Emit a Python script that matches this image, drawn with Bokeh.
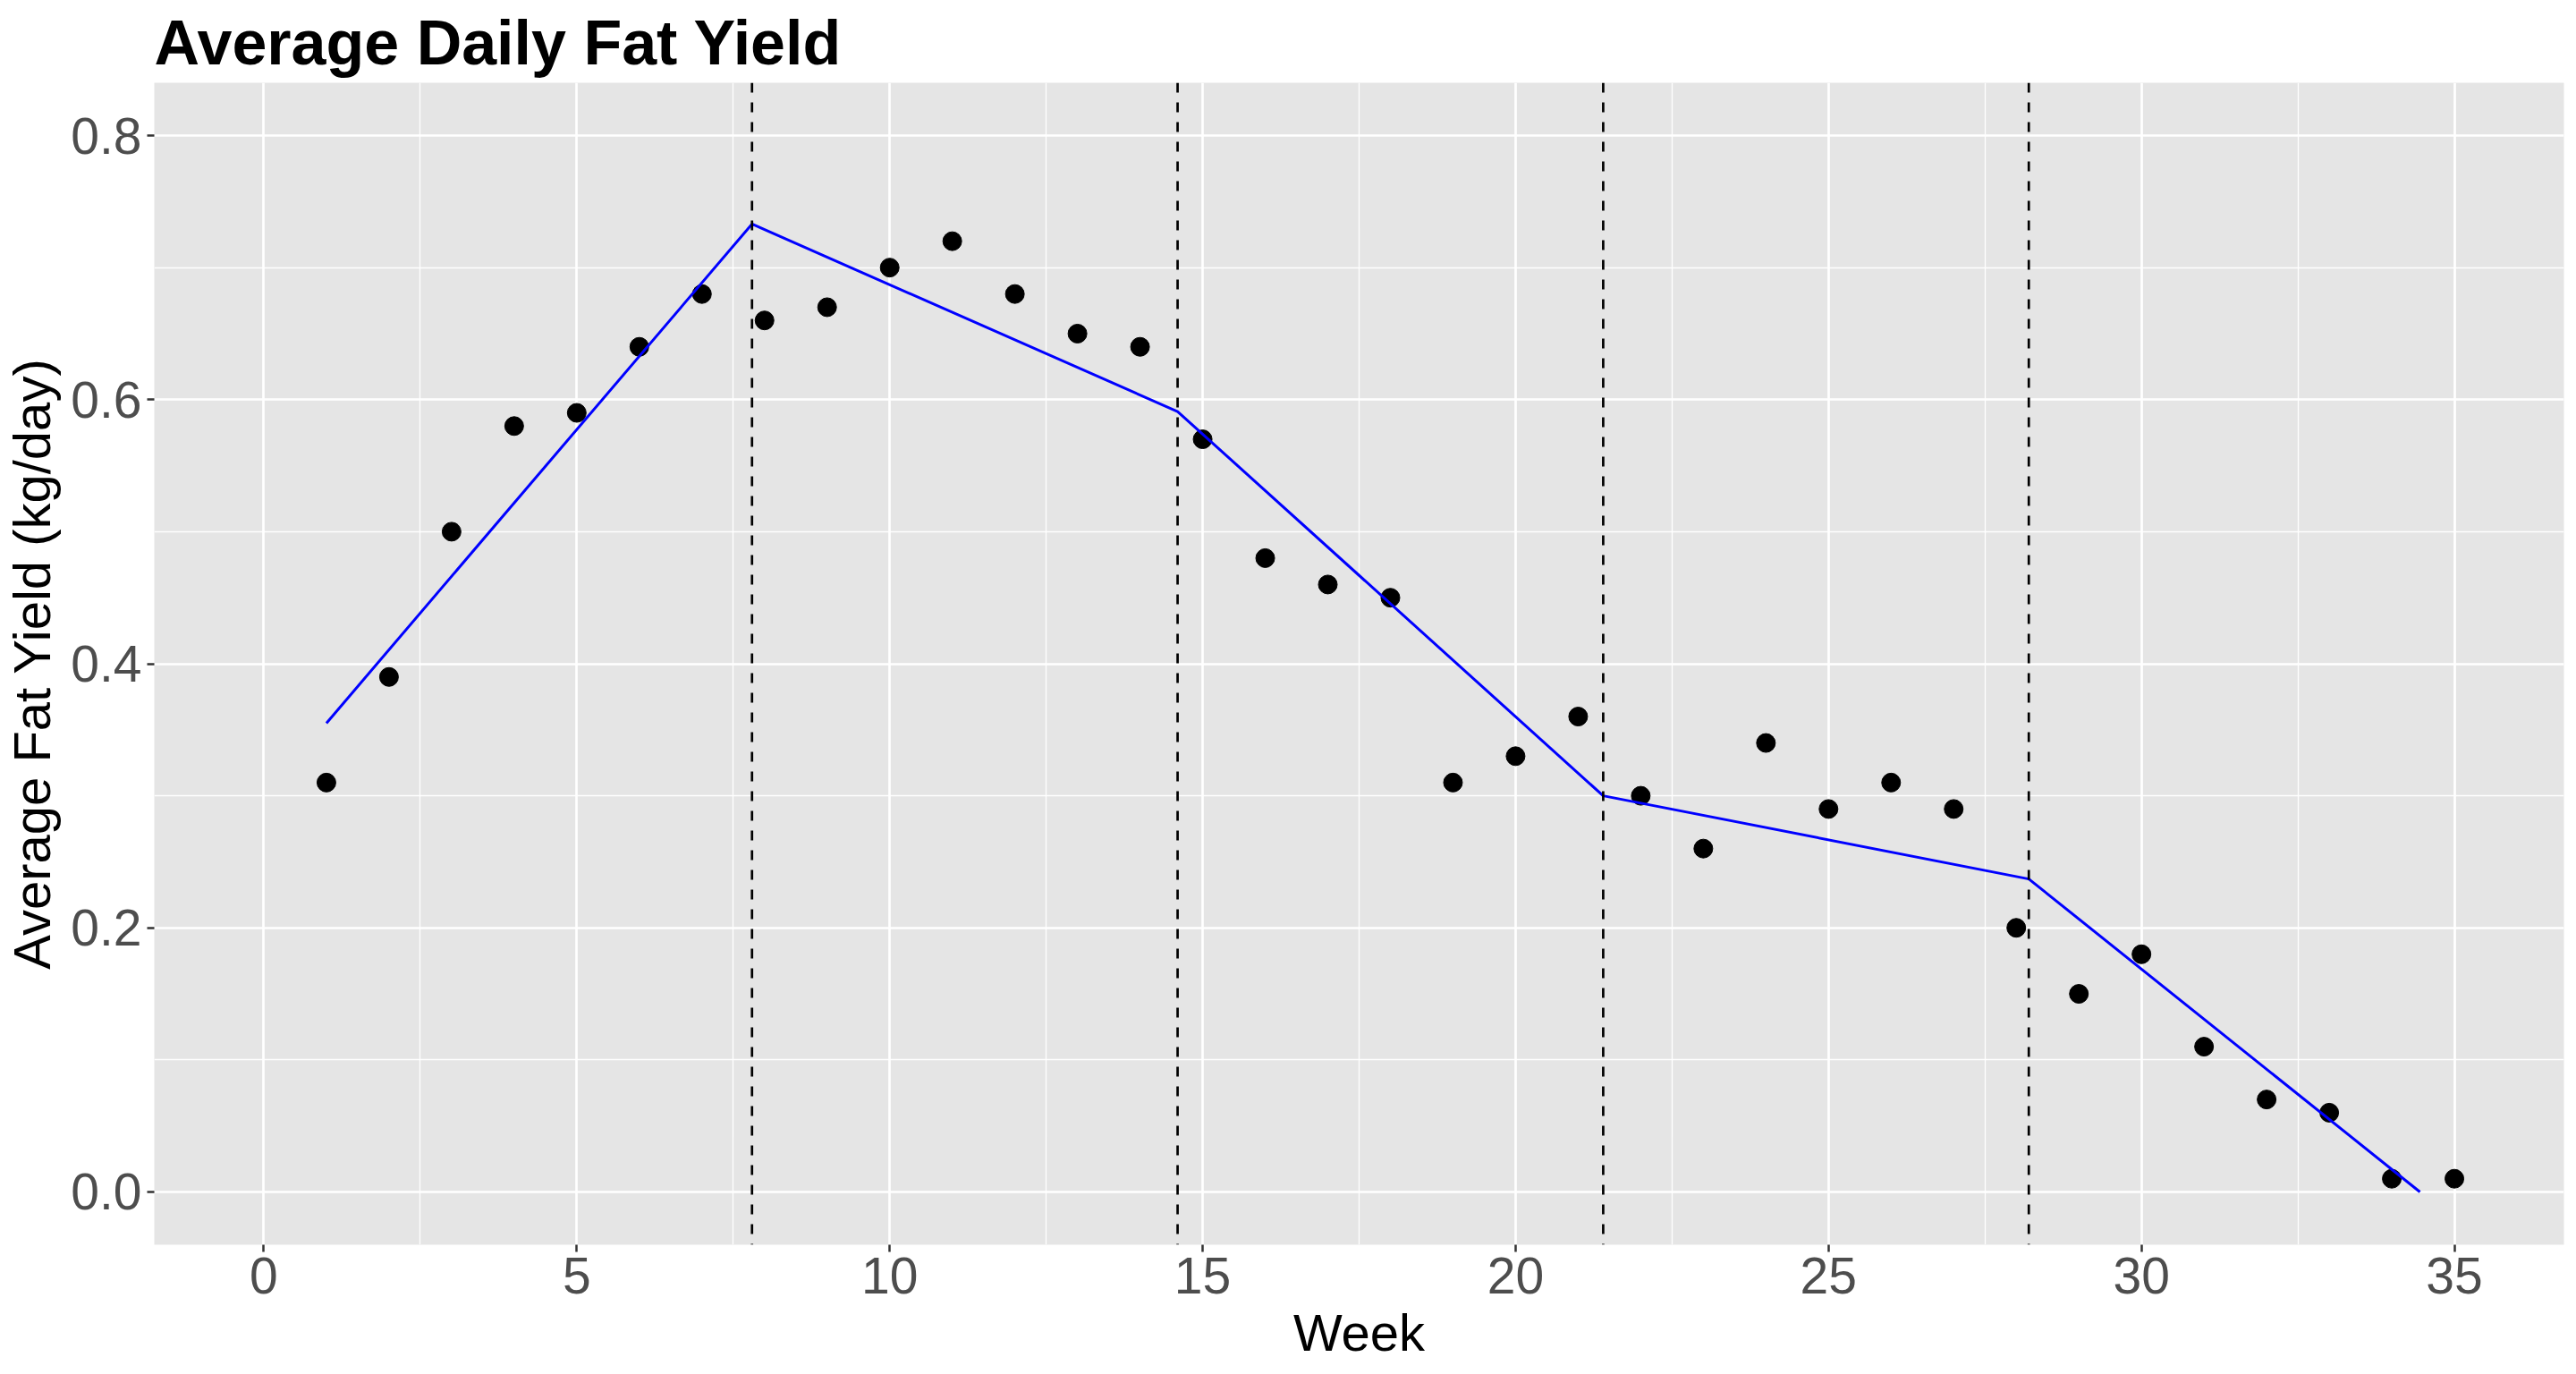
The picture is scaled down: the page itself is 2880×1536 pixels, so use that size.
from bokeh.plotting import figure
from bokeh.models import FixedTicker, NumeralTickFormatter, Range1d, Span
from bokeh.embed import file_html
from bokeh.resources import INLINE

# ---- data ----
weeks = list(range(1, 36))
fat_yield = [0.31, 0.39, 0.50, 0.58, 0.59, 0.64, 0.68, 0.66, 0.67, 0.70,
             0.72, 0.68, 0.65, 0.64, 0.57, 0.48, 0.46, 0.45, 0.31, 0.33,
             0.36, 0.30, 0.26, 0.34, 0.29, 0.31, 0.29, 0.20, 0.15, 0.18,
             0.11, 0.07, 0.06, 0.01, 0.01]
breakpoints = [7.8, 14.6, 21.4, 28.2]
fit_x = [1, 7.8, 14.6, 21.4, 28.2, 34.45]
fit_y = [0.355, 0.733, 0.591, 0.300, 0.237, 0.0]
x_ticks = [0, 5, 10, 15, 20, 25, 30, 35]
x_minor = [2.5, 7.5, 12.5, 17.5, 22.5, 27.5, 32.5]
y_ticks = [0.0, 0.2, 0.4, 0.6, 0.8]
y_minor = [0.1, 0.3, 0.5, 0.7]

FONT = "Liberation Sans"

p = figure(frame_width=2694, frame_height=1299,
           x_range=Range1d(-1.75, 36.75), y_range=Range1d(-0.04, 0.84),
           output_backend="svg", toolbar_location=None,
           min_border_left=163, min_border_top=85, min_border_right=7,
           min_border_bottom=136,
           background_fill_color="#E5E5E5", border_fill_color="white",
           outline_line_color=None,
           title="Average Daily Fat Yield",
           x_axis_label="Week", y_axis_label="Average Fat Yield (kg/day)")

p.title.text_font = FONT
p.title.text_font_size = "70px"
p.title.text_font_style = "bold"
p.title.text_color = "black"
p.title.align = "left"
p.title.offset = 0
p.title.standoff = 12

p.xaxis.ticker = FixedTicker(ticks=x_ticks, minor_ticks=x_minor)
p.yaxis.ticker = FixedTicker(ticks=y_ticks, minor_ticks=y_minor)
p.yaxis.formatter = NumeralTickFormatter(format="0.0")

for ax in (p.xaxis, p.yaxis):
    ax.axis_line_color = None
    ax.major_tick_line_color = "#333333"
    ax.major_tick_line_width = 2.5
    ax.major_tick_out = 8
    ax.major_tick_in = 0
    ax.minor_tick_line_color = None
    ax.major_label_text_font = FONT
    ax.major_label_text_font_size = "57px"
    ax.major_label_text_color = "#4D4D4D"
    ax.major_label_standoff = 6
    ax.axis_label_text_font = FONT
    ax.axis_label_text_font_size = "58px"
    ax.axis_label_text_font_style = "normal"
    ax.axis_label_text_color = "black"
    ax.axis_label_standoff = 8

for g in (p.xgrid, p.ygrid):
    g.grid_line_color = "white"
    g.grid_line_width = 2.7
    g.minor_grid_line_color = "white"
    g.minor_grid_line_width = 1.3

p.scatter(weeks, fat_yield, size=21, color="black")
p.line(fit_x, fit_y, line_color="blue", line_width=3)

for b in breakpoints:
    p.add_layout(Span(location=b, dimension="height", line_color="black",
                      line_dash="11 11", line_width=2.7))

open("out.html", "w").write(file_html(p, INLINE))
